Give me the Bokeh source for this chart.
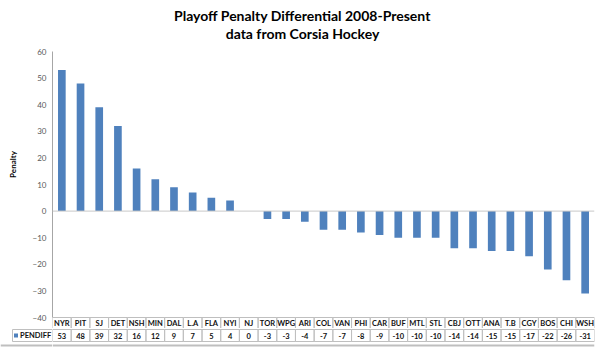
from bokeh.plotting import figure
from bokeh.layouts import column, row
from bokeh.models import Range1d, FactorRange, FixedTicker, Span, ColumnDataSource
from bokeh.embed import file_html
from bokeh.resources import INLINE
from bokeh.core.properties import value

# ---- data ----
teams = ["NYR", "PIT", "SJ", "DET", "NSH", "MIN", "DAL", "L.A", "FLA", "NYI", "NJ",
         "TOR", "WPG", "ARI", "COL", "VAN", "PHI", "CAR", "BUF", "MTL", "STL", "CBJ",
         "OTT", "ANA", "T.B", "CGY", "BOS", "CHI", "WSH"]
pendiff = [53, 48, 39, 32, 16, 12, 9, 7, 5, 4, 0, -3, -3, -4, -7, -7, -8, -9, -10,
           -10, -10, -14, -14, -15, -15, -17, -22, -26, -31]
y_ticks = [-40, -30, -20, -10, 0, 10, 20, 30, 40, 50, 60]
series_name = "PENDIFF"
title_1 = "Playoff Penalty Differential 2008-Present"
title_2 = "data from Corsia Hockey"
y_label = "Penalty"

# ---- geometry (pixels) ----
W, H = 600, 347
F_LEFT, F_RIGHT = 52, 594
TOP_H = 328                      # height of the upper figure (chart + category row)
PX_TOP_VAL, PX_LOW_VAL = 51, 317  # pixel rows of 60 and -40
ppu = (PX_LOW_VAL - PX_TOP_VAL) / (max(y_ticks) - min(y_ticks))
cw = (F_RIGHT - F_LEFT) / len(teams)


def py(pix):
    """pixel row -> data y of the upper figure"""
    return max(y_ticks) - (pix - PX_TOP_VAL) / ppu


def px(pix):
    """pixel column -> synthetic categorical x"""
    return (pix - F_LEFT) / cw


FONT = "Lato"
TSIZE = "7.5px"
BLUE = "#4F81BD"
GRID = "#BFBFBF"
TXT = "#111111"

# ================= upper figure =================
xr = FactorRange(factors=teams, range_padding=0)
p = figure(width=W, height=TOP_H, output_backend="svg", toolbar_location=None,
           x_range=xr, y_range=Range1d(py(TOP_H), py(0)), x_axis_location=None,
           min_border_left=F_LEFT, min_border_right=W - F_RIGHT,
           min_border_top=0, min_border_bottom=0,
           background_fill_color="white", border_fill_color="white")
p.title.visible = False
p.outline_line_color = None
p.grid.visible = False

yax = p.yaxis[0]
yax.ticker = FixedTicker(ticks=y_ticks, minor_ticks=[])
yax.bounds = (min(y_ticks), max(y_ticks))
yax.major_tick_out = 0
yax.major_tick_in = 0
yax.minor_tick_out = 0
yax.minor_tick_in = 0
yax.axis_line_color = "#A6A6A6"
yax.major_label_text_font = FONT
yax.major_label_text_font_size = "8px"
yax.major_label_text_color = "#595959"
yax.major_label_standoff = 6
yax.axis_label = y_label
yax.axis_label_text_font = FONT
yax.axis_label_text_font_size = "8px"
yax.axis_label_text_font_style = "bold"
yax.axis_label_text_color = "#000000"
yax.axis_label_standoff = 12

src = ColumnDataSource(dict(team=teams, val=pendiff, lab=[str(v) for v in pendiff]))

p.vbar(x="team", top="val", bottom=0, width=0.41, source=src,
       fill_color=BLUE, line_color=None)
p.add_layout(Span(location=0, dimension="width", line_color="#C8C8C8", line_width=1))

# category row of the data table
r0, r1 = min(y_ticks), py(329)
src.data["ycat"] = [(r0 + r1) / 2] * len(teams)
p.rect(x="team", y="ycat", width=1, height=r0 - r1, source=src,
       fill_color=None, line_color=GRID, line_width=1)
p.text(x="team", y=py(323), text="team", source=src, text_align="center",
       text_baseline="middle", text_font=value(FONT), text_font_size=TSIZE,
       text_font_style="bold", text_color=TXT)

# titles
tsrc = ColumnDataSource(dict(x=[px(302), px(302)], y=[py(15), py(33)], t=[title_1, title_2]))
p.text(x="x", y="y", text="t", source=tsrc, text_align="center", text_baseline="middle",
       text_font=value(FONT), text_font_size="14px", text_font_style="bold",
       text_color="#000000")

# ================= lower band: value row =================
B_H = H - TOP_H
vy_top, vy_bot = 329 - TOP_H, 341 - TOP_H
vy_mid = (vy_top + vy_bot) / 2
border_y = 345 - TOP_H


def band(width, left, right, x_range):
    f = figure(width=width, height=B_H, output_backend="svg", toolbar_location=None,
               x_range=x_range, y_range=Range1d(B_H, 0),
               x_axis_location=None, y_axis_location=None,
               min_border_left=left, min_border_right=right,
               min_border_top=0, min_border_bottom=0,
               background_fill_color="white", border_fill_color="white")
    f.title.visible = False
    f.outline_line_color = None
    f.grid.visible = False
    return f


# header cell (left of the plot area)
h = band(F_LEFT, 0, 0, Range1d(0, F_LEFT))
h.quad(left=[12], right=[F_LEFT], top=[vy_top], bottom=[vy_bot],
       fill_color=None, line_color=GRID, line_width=1)
h.rect(x=[15.5], y=[vy_mid], width=4, height=4, width_units="screen",
       height_units="screen", fill_color=BLUE, line_color=None)
h.text(x=[19.5], y=[vy_mid], text=[series_name], text_align="left",
       text_baseline="middle", text_font=value(FONT), text_font_size=TSIZE,
       text_font_style="bold", text_color=TXT)
h.segment(x0=[0], x1=[F_LEFT], y0=[border_y], y1=[border_y],
          line_color="#BFBFBF", line_width=2)

# value cells, sharing the category axis of the chart
q = band(W - F_LEFT, 0, W - F_RIGHT, xr)
src.data["yval"] = [vy_mid] * len(teams)
q.rect(x="team", y="yval", width=1, height=vy_bot - vy_top, source=src,
       fill_color=None, line_color=GRID, line_width=1)
q.text(x="team", y="yval", text="lab", source=src, text_align="center",
       text_baseline="middle", text_font=value(FONT), text_font_size=TSIZE,
       text_font_style="bold", text_color=TXT)
q.add_layout(Span(location=border_y, dimension="width", line_color="#BFBFBF", line_width=2))

layout = column(p, row(h, q, spacing=0), spacing=0)
open("out.html", "w").write(file_html(layout, INLINE))
